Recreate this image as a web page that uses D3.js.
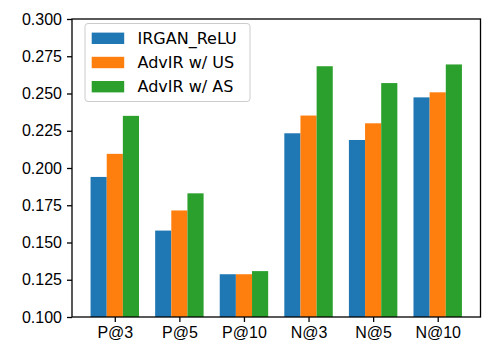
<!DOCTYPE html>
<html>
<head>
<meta charset="utf-8">
<style>
body { margin: 0; background: #fff; }
svg { font-family: "DejaVu Sans", sans-serif; }
.axis text { font-size: 16px; fill: #000; }
.axis path, .axis line { stroke: #000; }
</style>
</head>
<body>
<script src="https://d3js.org/d3.v7.min.js"></script>
<script>
// data
var categories = ["P@3", "P@5", "P@10", "N@3", "N@5", "N@10"];
var seriesNames = ["IRGAN_ReLU", "AdvIR w/ US", "AdvIR w/ AS"];
var irgan = [0.194, 0.158, 0.1287, 0.2233, 0.2188, 0.2474];
var advUS = [0.2095, 0.1715, 0.1287, 0.2352, 0.2300, 0.2508];
var advAS = [0.2350, 0.1830, 0.1308, 0.2683, 0.2570, 0.2695];
var yTicks = [0.100, 0.125, 0.150, 0.175, 0.200, 0.225, 0.250, 0.275, 0.300];
var colors = ["#1f77b4", "#ff7f0e", "#2ca02c"];

var series = [irgan, advUS, advAS];
var barW = 0.25;

var W = 498, H = 360;
var mLeft = 72, mRight = 480.5, mTop = 19, mBottom = 317;

var svg = d3.select("body").append("svg")
    .attr("width", W)
    .attr("height", H);

// x in bar units, matplotlib style margins
var xs = d3.scaleLinear().domain([-0.6625, 5.6625]).range([mLeft, mRight]),
    ys = d3.scaleLinear().domain([0.1, 0.3]).range([mBottom, mTop]);

// bars
series.forEach(function(vals, s) {
  svg.append("g").selectAll("rect")
    .data(vals)
    .enter().append("rect")
      .attr("x", function(d, i) { return xs(i + (s - 1) * barW - barW / 2); })
      .attr("width", xs(barW) - xs(0))
      .attr("y", function(d) { return ys(d); })
      .attr("height", function(d) { return ys(0.1) - ys(d); })
      .attr("fill", colors[s]);
});

// axes
var xAxis = d3.axisBottom(xs)
    .tickValues(d3.range(categories.length))
    .tickFormat(function(i) { return categories[i]; })
    .tickSize(5).tickPadding(5).tickSizeOuter(0);
var gx = svg.append("g").attr("class", "axis")
    .attr("transform", "translate(0," + mBottom + ")")
    .call(xAxis);
gx.select(".domain").remove();

var yAxis = d3.axisLeft(ys)
    .tickValues(yTicks)
    .tickFormat(d3.format(".3f"))
    .tickSize(5).tickPadding(5).tickSizeOuter(0);
var gy = svg.append("g").attr("class", "axis")
    .attr("transform", "translate(" + mLeft + ",0)")
    .call(yAxis);
gy.select(".domain").remove();
svg.selectAll(".axis line").attr("stroke-width", 1.3);

// frame
svg.append("rect")
    .attr("x", mLeft).attr("y", mTop)
    .attr("width", mRight - mLeft).attr("height", mBottom - mTop)
    .attr("fill", "none").attr("stroke", "#000").attr("stroke-width", 1.3);

// legend
var lg = svg.append("g");
lg.append("rect")
    .attr("x", 85).attr("y", 23.5)
    .attr("width", 165).attr("height", 78)
    .attr("rx", 3).attr("ry", 3)
    .attr("fill", "#fff").attr("fill-opacity", 0.8)
    .attr("stroke", "#ccc").attr("stroke-width", 1);
seriesNames.forEach(function(name, s) {
  var cy = 38.3 + s * 24.2;
  lg.append("rect")
      .attr("x", 91.7).attr("y", cy - 5.7)
      .attr("width", 32.5).attr("height", 11.4)
      .attr("fill", colors[s]);
  lg.append("text")
      .attr("x", 137.5).attr("y", cy)
      .attr("dy", "0.36em")
      .attr("font-size", 16)
      .text(name);
});
</script>
</body>
</html>
